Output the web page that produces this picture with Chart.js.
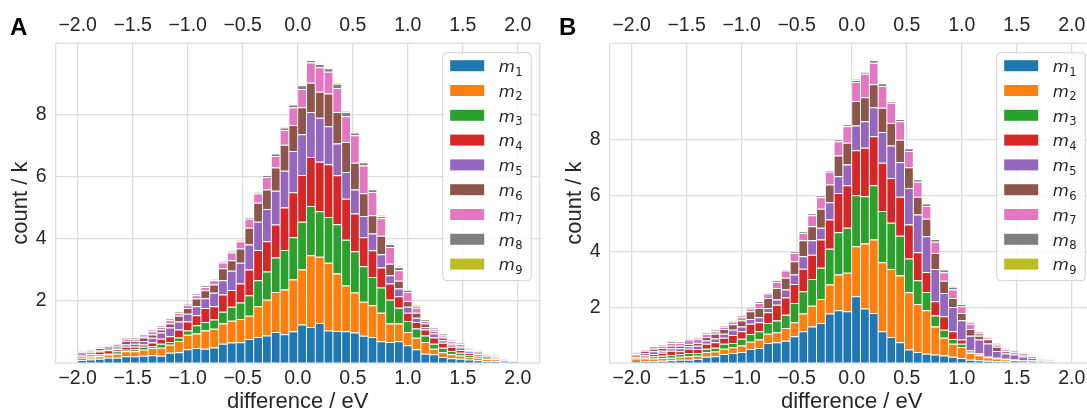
<!DOCTYPE html>
<html>
<head>
<meta charset="utf-8">
<script src="https://cdn.jsdelivr.net/npm/chart.js@4.4.1/dist/chart.umd.min.js"></script>
<style>
    html, body { margin: 0; padding: 0; background: #fff; overflow: hidden; }
    body { width: 1087px; height: 412px; position: relative; font-family: 'Liberation Sans', Arial, sans-serif; }
    .panel { position: absolute; top: 0; width: 545px; height: 412px; }
    .letter { position: absolute; top: 14.7px; font-weight: bold; font-size: 24px; line-height: 1; color: #000; }
</style>
</head>
<body>
<div class="panel" style="left:0"><canvas id="chartA"></canvas></div>
<div class="panel" style="left:554px"><canvas id="chartB"></canvas></div>
<div class="letter" style="left:10px">A</div>
<div class="letter" style="left:559px">B</div>
<script>
// bin centres (bin width 0.08 eV) and axis ticks
const binCenters = [
    -1.96, -1.88, -1.80, -1.72, -1.64, -1.56, -1.48, -1.40, -1.32, -1.24,
    -1.16, -1.08, -1.00, -0.92, -0.84, -0.76, -0.68, -0.60, -0.52, -0.44,
    -0.36, -0.28, -0.20, -0.12, -0.04, 0.04, 0.12, 0.20, 0.28, 0.36,
    0.44, 0.52, 0.60, 0.68, 0.76, 0.84, 0.92, 1.00, 1.08, 1.16,
    1.24, 1.32, 1.40, 1.48, 1.56, 1.64, 1.72, 1.80, 1.88, 1.96
];
const xTicks = [-2.0, -1.5, -1.0, -0.5, 0.0, 0.5, 1.0, 1.5, 2.0];
const yTicks = [2, 4, 6, 8];

const seriesLabels = ['m1', 'm2', 'm3', 'm4', 'm5', 'm6', 'm7', 'm8', 'm9'];
const seriesColors = ['#1f77b4', '#ff7f0e', '#2ca02c', '#d62728', '#9467bd',
                      '#8c564b', '#e377c2', '#7f7f7f', '#bcbd22'];

// panel A counts (thousands)
const A_m1 = [0.10, 0.11, 0.14, 0.17, 0.17, 0.22, 0.22, 0.23, 0.25, 0.23,
              0.33, 0.35, 0.44, 0.48, 0.46, 0.50, 0.62, 0.66, 0.67, 0.77,
              0.84, 0.89, 1.00, 0.93, 1.02, 1.24, 1.16, 1.29, 1.05, 1.03,
              1.02, 0.98, 0.88, 0.84, 0.70, 0.68, 0.70, 0.57, 0.44, 0.30,
              0.28, 0.19, 0.15, 0.14, 0.11, 0.09, 0.06, 0.06, 0.03, 0.05];
const A_m2 = [0.07, 0.07, 0.08, 0.10, 0.13, 0.16, 0.16, 0.20, 0.23, 0.26,
              0.26, 0.36, 0.47, 0.47, 0.59, 0.60, 0.65, 0.70, 0.75, 0.75,
              0.99, 1.15, 1.29, 1.44, 1.67, 1.77, 2.31, 2.13, 2.18, 1.85,
              1.48, 1.29, 1.09, 1.02, 0.92, 0.59, 0.57, 0.43, 0.37, 0.38,
              0.18, 0.16, 0.13, 0.10, 0.08, 0.08, 0.07, 0.06, 0.04, 0.01];
const A_m3 = [0.04, 0.05, 0.05, 0.03, 0.08, 0.05, 0.06, 0.09, 0.06, 0.13,
              0.09, 0.11, 0.14, 0.27, 0.27, 0.30, 0.38, 0.45, 0.53, 0.66,
              0.84, 0.91, 1.11, 1.27, 1.36, 1.54, 1.59, 1.47, 1.47, 1.59,
              1.47, 1.33, 1.15, 0.91, 0.81, 0.77, 0.51, 0.35, 0.30, 0.21,
              0.16, 0.14, 0.11, 0.09, 0.07, 0.06, 0.03, 0.03, 0.01, 0.00];
const A_m4 = [0.05, 0.06, 0.10, 0.11, 0.06, 0.09, 0.08, 0.08, 0.12, 0.16,
              0.18, 0.26, 0.29, 0.32, 0.45, 0.43, 0.56, 0.54, 0.61, 0.83,
              0.97, 0.97, 1.06, 1.37, 1.45, 1.51, 1.58, 1.59, 1.70, 1.58,
              1.32, 1.22, 0.93, 0.86, 0.65, 0.52, 0.37, 0.27, 0.21, 0.19,
              0.20, 0.16, 0.13, 0.09, 0.06, 0.05, 0.03, 0.03, 0.01, 0.00];
const A_m5 = [0.04, 0.05, 0.05, 0.05, 0.05, 0.08, 0.10, 0.11, 0.15, 0.20,
              0.28, 0.26, 0.25, 0.29, 0.32, 0.43, 0.46, 0.62, 0.67, 0.81,
              0.91, 1.04, 1.09, 1.18, 1.33, 1.31, 1.45, 1.42, 1.23, 1.02,
              0.86, 0.77, 0.69, 0.54, 0.42, 0.27, 0.25, 0.19, 0.14, 0.08,
              0.13, 0.08, 0.08, 0.08, 0.05, 0.05, 0.03, 0.03, 0.01, 0.00];
const A_m6 = [0.04, 0.04, 0.06, 0.07, 0.06, 0.11, 0.09, 0.11, 0.11, 0.10,
              0.13, 0.18, 0.18, 0.25, 0.25, 0.27, 0.38, 0.34, 0.46, 0.54,
              0.61, 0.63, 0.75, 0.84, 0.84, 0.87, 0.94, 0.84, 1.05, 1.02,
              0.97, 0.86, 0.73, 0.59, 0.60, 0.37, 0.25, 0.19, 0.16, 0.11,
              0.07, 0.09, 0.04, 0.05, 0.04, 0.04, 0.02, 0.02, 0.01, 0.00];
const A_m7 = [0.03, 0.03, 0.03, 0.04, 0.05, 0.07, 0.06, 0.06, 0.10, 0.08,
              0.11, 0.09, 0.11, 0.10, 0.11, 0.14, 0.19, 0.25, 0.23, 0.29,
              0.30, 0.40, 0.37, 0.48, 0.56, 0.59, 0.65, 0.79, 0.70, 0.77,
              0.83, 0.89, 0.89, 0.75, 0.56, 0.54, 0.34, 0.29, 0.16, 0.08,
              0.07, 0.07, 0.06, 0.06, 0.04, 0.03, 0.02, 0.02, 0.00, 0.00];
const A_m8 = [0.02, 0.02, 0.02, 0.02, 0.03, 0.03, 0.04, 0.05, 0.05, 0.03,
              0.04, 0.03, 0.02, 0.05, 0.05, 0.03, 0.04, 0.05, 0.04, 0.04,
              0.05, 0.07, 0.08, 0.08, 0.10, 0.12, 0.08, 0.10, 0.12, 0.14,
              0.14, 0.09, 0.11, 0.09, 0.08, 0.09, 0.10, 0.07, 0.06, 0.06,
              0.05, 0.06, 0.04, 0.03, 0.02, 0.02, 0.01, 0.01, 0.00, 0.00];
const A_m9 = [0.01, 0.01, 0.01, 0.01, 0.01, 0.01, 0.01, 0.02, 0.01, 0.01,
              0.01, 0.01, 0.01, 0.01, 0.01, 0.01, 0.01, 0.01, 0.01, 0.01,
              0.01, 0.01, 0.02, 0.02, 0.02, 0.02, 0.02, 0.02, 0.02, 0.02,
              0.02, 0.02, 0.02, 0.02, 0.02, 0.02, 0.03, 0.02, 0.02, 0.02,
              0.02, 0.02, 0.01, 0.01, 0.01, 0.01, 0.01, 0.01, 0.00, 0.00];

// panel B counts (thousands)
const B_m1 = [0.04, 0.05, 0.07, 0.08, 0.10, 0.12, 0.12, 0.14, 0.22, 0.24,
              0.32, 0.36, 0.39, 0.50, 0.54, 0.72, 0.74, 0.80, 0.96, 1.14,
              1.31, 1.43, 1.77, 1.89, 1.85, 2.39, 1.95, 1.79, 1.14, 0.93,
              0.74, 0.48, 0.39, 0.33, 0.30, 0.27, 0.22, 0.18, 0.12, 0.10,
              0.08, 0.06, 0.05, 0.04, 0.03, 0.03, 0.02, 0.02, 0.01, 0.01];
const B_m2 = [0.12, 0.11, 0.09, 0.10, 0.09, 0.10, 0.12, 0.12, 0.17, 0.17,
              0.19, 0.20, 0.24, 0.26, 0.30, 0.33, 0.36, 0.45, 0.50, 0.63,
              0.74, 0.86, 1.04, 1.28, 1.38, 1.79, 2.33, 2.63, 2.47, 2.44,
              2.39, 2.05, 1.72, 1.56, 1.01, 0.63, 0.47, 0.39, 0.24, 0.18,
              0.12, 0.10, 0.08, 0.07, 0.06, 0.05, 0.03, 0.03, 0.02, 0.01];
const B_m3 = [0.04, 0.06, 0.08, 0.08, 0.10, 0.10, 0.12, 0.10, 0.12, 0.14,
              0.18, 0.16, 0.24, 0.28, 0.30, 0.38, 0.42, 0.48, 0.69, 0.80,
              0.96, 1.12, 1.28, 1.51, 1.61, 1.83, 1.69, 1.95, 1.83, 1.65,
              1.43, 1.21, 0.85, 0.65, 0.39, 0.29, 0.17, 0.12, 0.02, 0.02,
              0.01, 0.01, 0.01, 0.01, 0.01, 0.01, 0.00, 0.00, 0.00, 0.00];
const B_m4 = [0.06, 0.07, 0.08, 0.11, 0.15, 0.10, 0.15, 0.14, 0.18, 0.19,
              0.21, 0.28, 0.27, 0.37, 0.32, 0.39, 0.57, 0.62, 0.68, 0.81,
              0.87, 1.01, 1.05, 1.41, 1.53, 1.61, 1.74, 1.75, 1.73, 1.61,
              1.39, 1.22, 1.01, 0.72, 0.51, 0.48, 0.28, 0.15, 0.07, 0.04,
              0.02, 0.02, 0.01, 0.01, 0.01, 0.01, 0.00, 0.00, 0.00, 0.00];
const B_m5 = [0.05, 0.07, 0.10, 0.07, 0.09, 0.11, 0.09, 0.12, 0.12, 0.14,
              0.15, 0.19, 0.17, 0.17, 0.18, 0.15, 0.18, 0.28, 0.34, 0.44,
              0.52, 0.42, 0.62, 0.60, 0.74, 0.89, 0.95, 1.04, 1.10, 1.16,
              1.24, 1.31, 1.35, 1.28, 1.16, 0.84, 0.87, 0.69, 0.53, 0.50,
              0.47, 0.24, 0.19, 0.17, 0.12, 0.09, 0.04, 0.03, 0.02, 0.00];
const B_m6 = [0.04, 0.08, 0.09, 0.10, 0.09, 0.09, 0.08, 0.10, 0.12, 0.17,
              0.17, 0.20, 0.21, 0.27, 0.33, 0.36, 0.42, 0.42, 0.47, 0.58,
              0.50, 0.68, 0.63, 0.74, 0.78, 0.87, 0.86, 0.82, 0.87, 0.81,
              0.81, 0.74, 0.63, 0.63, 0.57, 0.44, 0.32, 0.26, 0.24, 0.14,
              0.15, 0.15, 0.08, 0.08, 0.06, 0.05, 0.02, 0.02, 0.01, 0.00];
const B_m7 = [0.02, 0.04, 0.09, 0.08, 0.10, 0.10, 0.16, 0.15, 0.11, 0.09,
              0.08, 0.10, 0.12, 0.10, 0.18, 0.16, 0.21, 0.26, 0.30, 0.26,
              0.39, 0.42, 0.46, 0.51, 0.59, 0.68, 0.84, 0.77, 0.78, 0.72,
              0.66, 0.58, 0.54, 0.45, 0.40, 0.30, 0.30, 0.24, 0.19, 0.10,
              0.06, 0.08, 0.07, 0.07, 0.05, 0.03, 0.02, 0.01, 0.01, 0.00];
const B_m8 = [0.01, 0.01, 0.02, 0.03, 0.04, 0.03, 0.04, 0.04, 0.04, 0.04,
              0.04, 0.03, 0.05, 0.05, 0.05, 0.04, 0.05, 0.05, 0.05, 0.05,
              0.07, 0.07, 0.06, 0.07, 0.07, 0.08, 0.07, 0.10, 0.10, 0.06,
              0.08, 0.10, 0.09, 0.09, 0.10, 0.10, 0.10, 0.08, 0.06, 0.05,
              0.04, 0.05, 0.04, 0.04, 0.03, 0.02, 0.01, 0.01, 0.01, 0.00];
const B_m9 = [0.01, 0.01, 0.01, 0.01, 0.02, 0.01, 0.02, 0.02, 0.02, 0.01,
              0.01, 0.01, 0.02, 0.01, 0.01, 0.01, 0.01, 0.01, 0.01, 0.01,
              0.02, 0.02, 0.02, 0.02, 0.02, 0.02, 0.02, 0.02, 0.02, 0.02,
              0.02, 0.02, 0.02, 0.02, 0.02, 0.02, 0.02, 0.02, 0.01, 0.01,
              0.01, 0.01, 0.01, 0.01, 0.01, 0.01, 0.00, 0.00, 0.00, 0.00];

const panelA = [A_m1, A_m2, A_m3, A_m4, A_m5, A_m6, A_m7, A_m8, A_m9];
const panelB = [B_m1, B_m2, B_m3, B_m4, B_m5, B_m6, B_m7, B_m8, B_m9];

const TEXT = '#262626';
const GRID = '#dcdcdc';
const FONT = "'Liberation Sans', Arial, sans-serif";

const fmtX = v => (v < 0 ? '\u2212' : '') + Math.abs(v).toFixed(1);

// light frame around the plot area, drawn over the bars like matplotlib spines
const framePlugin = {
    id: 'frame',
    afterDatasetsDraw(chart) {
        const { ctx, chartArea: a } = chart;
        ctx.save();
        ctx.strokeStyle = GRID;
        ctx.lineWidth = 1.25;
        ctx.strokeRect(a.left, a.top, a.right - a.left, a.bottom - a.top);
        ctx.restore();
    }
};

// legend box in the upper right corner with italic m and subscript index
const legendPlugin = {
    id: 'mLegend',
    afterDraw(chart) {
        const { ctx, chartArea: a } = chart;
        const left = a.right - 97, top = a.top + 9.4;
        const w = 88.5, h = 228;
        ctx.save();
        ctx.beginPath();
        if (ctx.roundRect) ctx.roundRect(left, top, w, h, 4); else ctx.rect(left, top, w, h);
        ctx.fillStyle = 'rgba(255,255,255,0.8)';
        ctx.fill();
        ctx.strokeStyle = '#d0d0d0';
        ctx.lineWidth = 1;
        ctx.stroke();
        chart.data.datasets.forEach((ds, i) => {
            const cy = top + 13 + i * 24.8;
            ctx.fillStyle = ds.backgroundColor;
            ctx.fillRect(left + 7.5, cy - 5.5, 34, 11);
            ctx.fillStyle = TEXT;
            ctx.textBaseline = 'alphabetic';
            ctx.font = "oblique 16.5px 'DejaVu Sans'";
            const mx = left + 56;
            ctx.fillText(ds.label[0], mx, cy + 6.2);
            const sx = mx + ctx.measureText(ds.label[0]).width + 0.5;
            ctx.font = "11.5px 'DejaVu Sans'";
            ctx.fillText(ds.label.slice(1), sx, cy + 9.8);
        });
        ctx.restore();
    }
};

function xAxis(position) {
    const top = position === 'top';
    return {
        type: 'linear',
        position: position,
        min: -2.2,
        max: 2.2,
        offset: false,
        stacked: true,
        grid: { display: !top, offset: false, color: GRID, lineWidth: 1.25, drawTicks: false },
        border: { display: false },
        ticks: {
            color: TEXT,
            font: { family: FONT, size: 19.5 },
            padding: top ? 6 : 4.2,
            maxRotation: 0,
            autoSkip: false,
            callback: v => fmtX(v)
        },
        title: {
            display: !top,
            text: 'difference / eV',
            color: TEXT,
            font: { family: FONT, size: 22, lineHeight: 1 },
            padding: { top: 0, bottom: -1 }
        },
        afterBuildTicks: scale => { scale.ticks = xTicks.map(v => ({ value: v })); },
        afterFit: scale => { scale.height = top ? 43.3 : 49; }
    };
}

function makePanel(canvas, seriesData, yMax) {
    const datasets = seriesData.map((values, i) => ({
        label: seriesLabels[i],
        data: values.map((v, j) => ({ x: binCenters[j], y: v })),
        backgroundColor: seriesColors[i],
        borderColor: '#ffffff',
        borderWidth: { top: 1, right: 0.5, bottom: 0, left: 0.5 },
        borderSkipped: false,
        inflateAmount: 0,
        barPercentage: 1,
        categoryPercentage: 1,
        stack: 'all'
    }));

    return new Chart(canvas, {
        type: 'bar',
        data: { datasets: datasets },
        options: {
            responsive: true,
            maintainAspectRatio: false,
            animation: false,
            devicePixelRatio: 1,
            layout: { padding: { left: 0, right: 5.3, top: 0, bottom: 0 } },
            plugins: {
                legend: { display: false },
                tooltip: { enabled: false }
            },
            scales: {
                x: xAxis('bottom'),
                x2: xAxis('top'),
                y: {
                    type: 'linear',
                    min: 0,
                    max: yMax,
                    stacked: true,
                    grid: { color: GRID, lineWidth: 1.25, drawTicks: false },
                    border: { display: false },
                    ticks: {
                        color: TEXT,
                        font: { family: FONT, size: 19.5 },
                        padding: 9
                    },
                    title: {
                        display: true,
                        text: 'count / k',
                        color: TEXT,
                        font: { family: FONT, size: 22 },
                        padding: { top: 7.8, bottom: 0 }
                    },
                    afterBuildTicks: scale => { scale.ticks = yTicks.map(v => ({ value: v })); },
                    afterFit: scale => { scale.width = 55.7; }
                }
            }
        },
        plugins: [framePlugin, legendPlugin]
    });
}

makePanel(document.getElementById('chartA'), panelA, 10.3);
makePanel(document.getElementById('chartB'), panelB, 11.45);
</script>
</body>
</html>
